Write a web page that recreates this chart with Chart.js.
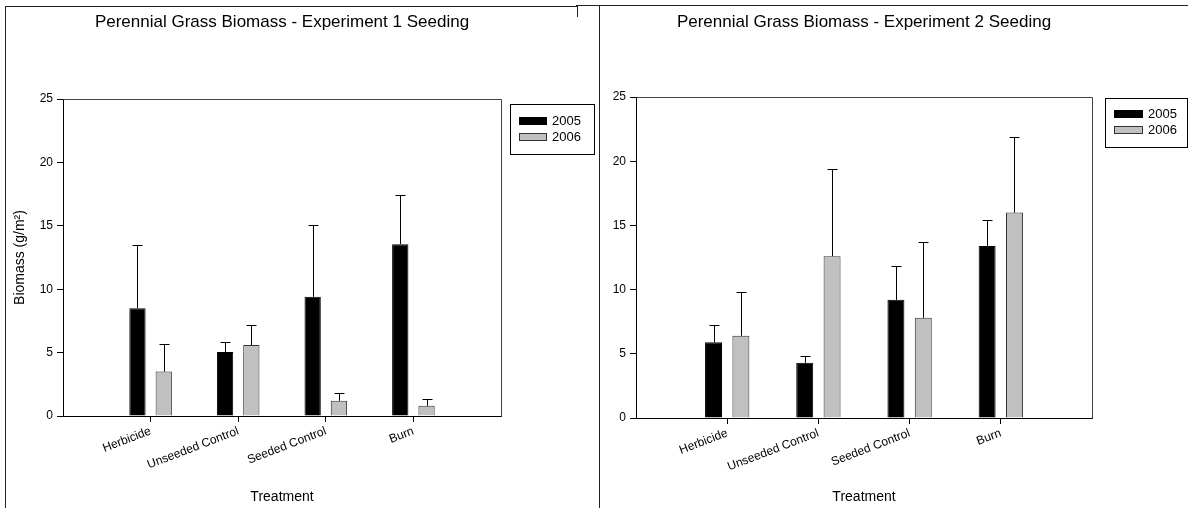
<!DOCTYPE html>
<html>
<head>
<meta charset="utf-8">
<script src="https://cdn.jsdelivr.net/npm/chart.js@4.4.1/dist/chart.umd.min.js"></script>
<style>
html,body{margin:0;padding:0;background:#fff;overflow:hidden;width:1188px;height:508px;position:relative}
canvas{position:absolute;top:0}
#c1{left:-35px}
#c2{left:540px}
.ln{position:absolute;background:#222}
</style>
</head>
<body>
<canvas id="c1" width="634" height="508"></canvas>
<canvas id="c2" width="648" height="508"></canvas>
<div class="ln" style="left:5px;top:6px;width:1px;height:502px"></div>
<div class="ln" style="left:5px;top:6px;width:572px;height:1px"></div>
<div class="ln" style="left:576px;top:5px;width:612px;height:1px"></div>
<div class="ln" style="left:577px;top:5px;width:1px;height:12px"></div>
<div class="ln" style="left:599px;top:5px;width:1px;height:503px"></div>
<script>
// ---- data ----
const categories = ['Herbicide', 'Unseeded Control', 'Seeded Control', 'Burn'];
const seriesNames = ['2005', '2006'];
const chartTitles = ['Perennial Grass Biomass - Experiment 1 Seeding', 'Perennial Grass Biomass - Experiment 2 Seeding'];
const xAxisTitle = 'Treatment';
const yAxisTitle = 'Biomass (g/m²)';
const yTickStep = 5;
const yMax = 25;

const exp1_2005 = [8.5, 5.05, 9.4, 13.55];
const exp1_2005_err = [4.95, 0.75, 5.65, 3.85];
const exp1_2006 = [3.5, 5.6, 1.2, 0.8];
const exp1_2006_err = [2.15, 1.6, 0.65, 0.55];

const exp2_2005 = [5.9, 4.3, 9.2, 13.4];
const exp2_2005_err = [1.35, 0.5, 2.65, 2.0];
const exp2_2006 = [6.4, 12.6, 7.8, 16.0];
const exp2_2006_err = [3.45, 6.8, 5.9, 5.9];

// ---- rendering ----
const FAM = '"Liberation Sans", Arial, Helvetica, sans-serif';
const pad = a => [null, ...a, null];
const axisLabels = ['', ...categories, ''];

const errorBars = {
  id: 'errorBars',
  afterDatasetsDraw(chart) {
    const ctx = chart.ctx, ys = chart.scales.y;
    chart.data.datasets.forEach((ds, di) => {
      if (!ds.errors) return;
      const meta = chart.getDatasetMeta(di);
      meta.data.forEach((bar, i) => {
        const v = ds.data[i], e = ds.errors[i];
        if (v == null || e == null) return;
        const x = Math.round(bar.x) + 0.5;
        const yTop = Math.round(ys.getPixelForValue(v + e)) + 0.5;
        const yBar = ys.getPixelForValue(v);
        ctx.save();
        ctx.strokeStyle = '#000';
        ctx.lineWidth = 1;
        ctx.beginPath();
        ctx.moveTo(x, yBar); ctx.lineTo(x, yTop);
        ctx.moveTo(x - 5, yTop); ctx.lineTo(x + 5, yTop);
        ctx.stroke();
        ctx.restore();
      });
    });
  }
};

const frame = {
  id: 'frame',
  beforeDatasetsDraw(chart) {
    const {ctx, chartArea: a} = chart;
    ctx.save();
    ctx.strokeStyle = '#444';
    ctx.lineWidth = 1;
    ctx.beginPath();
    ctx.moveTo(Math.round(a.left) + 0.5, Math.round(a.top) + 0.5);
    ctx.lineTo(Math.round(a.right) + 0.5, Math.round(a.top) + 0.5);
    ctx.lineTo(Math.round(a.right) + 0.5, Math.round(a.bottom) + 0.5);
    ctx.stroke();
    ctx.restore();
  }
};

const boxLegend = {
  id: 'boxLegend',
  afterDraw(chart, args, o) {
    const {ctx, chartArea: a} = chart;
    const L = Math.round(a.right + o.dx), T = Math.round(a.top + o.dy);
    ctx.save();
    ctx.lineWidth = 1;
    ctx.strokeStyle = '#000';
    ctx.strokeRect(L + 0.5, T + 0.5, o.w, o.h);
    chart.data.datasets.forEach((ds, i) => {
      const cy = T + o.row0 + i * o.rowGap;
      const sy = Math.round(cy - 4);
      ctx.fillStyle = ds.backgroundColor;
      ctx.fillRect(L + o.sx, sy, o.sw, 8);
      ctx.strokeStyle = ds.borderColor;
      ctx.strokeRect(L + o.sx + 0.5, sy + 0.5, o.sw - 1, 7);
      ctx.fillStyle = '#000';
      ctx.font = '13px ' + FAM;
      ctx.textBaseline = 'middle';
      ctx.textAlign = 'left';
      ctx.fillText(ds.label, L + o.sx + o.sw + 5, cy + 0.5);
    });
    ctx.restore();
  }
};

function makeChart(id, d05, e05, d06, e06, title, L) {
  return new Chart(document.getElementById(id), {
    type: 'bar',
    data: {
      labels: axisLabels,
      datasets: [
        {label: seriesNames[0], data: pad(d05), errors: pad(e05), backgroundColor: '#000000', borderColor: '#000000', borderWidth: 1},
        {label: seriesNames[1], data: pad(d06), errors: pad(e06), backgroundColor: '#c0c0c0', borderColor: '#333333', borderWidth: 1}
      ]
    },
    options: {
      responsive: false,
      animation: false,
      devicePixelRatio: 1,
      categoryPercentage: 0.6,
      barPercentage: 0.62,
      layout: {padding: 0},
      plugins: {
        legend: {display: false},
        tooltip: {enabled: false},
        title: {display: true, text: title, color: '#000', font: {family: FAM, size: 17, weight: 'normal', lineHeight: 1.2}, padding: {top: 12, bottom: L.titleBottom}},
        boxLegend: L.legend
      },
      scales: {
        x: {
          type: 'category',
          offset: false,
          grid: {display: true, drawOnChartArea: false, drawTicks: true, tickLength: 6, offset: false,
                 color: c => (c.index === 0 || c.index === axisLabels.length - 1) ? 'rgba(0,0,0,0)' : '#000'},
          border: {display: true, color: '#000', width: 1},
          ticks: {color: '#000', font: {family: FAM, size: 12}, minRotation: 21, maxRotation: 21, padding: 2, autoSkip: false},
          title: {display: true, text: xAxisTitle, color: '#000', font: {family: FAM, size: 14, lineHeight: 1.2}, padding: {top: 0, bottom: 2}},
          afterFit: s => { s.height = L.xH; }
        },
        y: {
          min: 0, max: yMax,
          ticks: {stepSize: yTickStep, color: '#000', font: {family: FAM, size: 12}, padding: 4},
          grid: {drawOnChartArea: false, tickLength: 6, color: '#000'},
          border: {display: true, color: '#000', width: 1},
          title: {display: L.showY, text: yAxisTitle, color: '#000', font: {family: FAM, size: 14, lineHeight: 1.2}, padding: {top: L.yTitlePad, bottom: 0}},
          afterFit: s => { s.width = L.yW; }
        },
        space: {
          type: 'linear', position: 'right', display: true,
          grid: {display: false}, ticks: {display: false}, border: {display: false},
          afterFit: s => { s.width = L.rightW; }
        }
      }
    },
    plugins: [frame, errorBars, boxLegend]
  });
}

makeChart('c1', exp1_2005, exp1_2005_err, exp1_2006, exp1_2006_err, chartTitles[0], {
  titleBottom: 66.6, xH: 92, yW: 98, rightW: 98, showY: true, yTitlePad: 46.6,
  legend: {dx: 9, dy: 5, w: 84, h: 50, sx: 9, sw: 28, row0: 17, rowGap: 16}
});
makeChart('c2', exp2_2005, exp2_2005_err, exp2_2006, exp2_2006_err, chartTitles[1], {
  titleBottom: 64.6, xH: 90, yW: 96, rightW: 96, showY: false, yTitlePad: 0,
  legend: {dx: 13, dy: 1, w: 82, h: 49, sx: 9, sw: 29, row0: 16, rowGap: 16}
});
</script>
</body>
</html>
